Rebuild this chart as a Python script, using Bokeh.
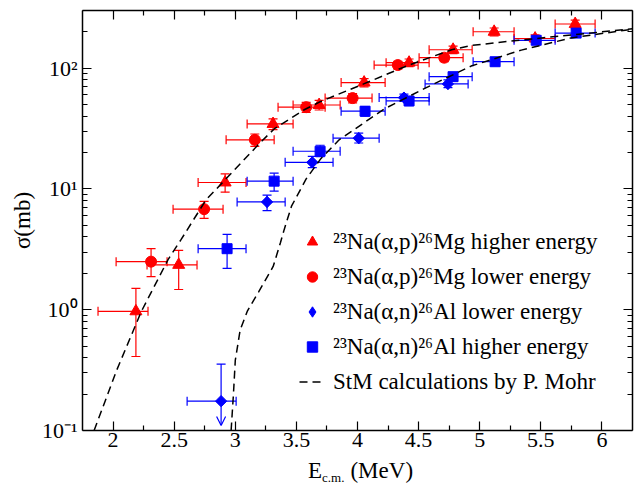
from bokeh.plotting import figure
from bokeh.layouts import column
from bokeh.models import (ColumnDataSource, Whisker, TeeHead, Arrow, OpenHead, Legend,
                          LegendItem, FixedTicker, CustomJSTickFormatter, LinearAxis,
                          LogAxis, Range1d, Div)
from bokeh.embed import file_html
from bokeh.resources import INLINE

# ---------------- data ----------------
# 23Na(a,p)26Mg higher energy (triangles)
tri_x = [2.187, 2.537, 2.917, 3.309, 3.686, 4.054, 4.422, 4.782, 5.118, 5.453, 5.781]
tri_xlo = [1.877, 2.278, 2.696, 3.097, 3.473, 3.866, 4.234, 4.586, 4.946, 5.281, 5.617]
tri_xhi = [2.286, 2.687, 3.088, 3.473, 3.858, 4.226, 4.586, 4.938, 5.281, 5.617, 5.944]
tri_y = [0.97, 2.35, 11.3, 34.5, 49.5, 76, 111, 142, 200, 176, 232]
tri_ylo = [0.41, 1.47, 9.4, 31, 45, 70, 103, 132, 185, 163, 214]
tri_yhi = [1.5, 3.1, 13.3, 38, 54, 82, 119, 152, 215, 189, 250]

# 23Na(a,p)26Mg lower energy (circles)
cir_x = [2.311, 2.745, 3.16, 3.58, 3.96, 4.33, 4.71]
cir_xlo = [2.025, 2.491, 2.925, 3.350, 3.735, 4.136, 4.504]
cir_xhi = [2.442, 2.900, 3.318, 3.735, 4.119, 4.496, 4.864]
cir_y = [2.5, 6.8, 25.5, 47.5, 56.5, 106, 122]
cir_ylo = [1.88, 5.7, 22.5, 43, 51.5, 98, 113]
cir_yhi = [3.2, 7.9, 28.5, 52, 61.5, 114, 131]

# 23Na(a,n)26Al lower energy (diamonds); separate upper-limit point
dia_x = [3.26, 3.63, 4.01, 4.38, 4.74]
dia_xlo = [3.015, 3.408, 3.800, 4.177, 4.553]
dia_xhi = [3.408, 3.800, 4.177, 4.586, 4.905]
dia_y = [7.8, 16.6, 26.3, 57, 74]
dia_ylo = [6.6, 15.0, 24.0, 53, 69]
dia_yhi = [8.9, 18.6, 29.0, 61, 80]
lim_x = [2.884]
lim_xlo = [2.606]
lim_xhi = [3.007]
lim_y = [0.175]
lim_yhi = [0.355]
lim_to = [0.11]

# 23Na(a,n)26Al higher energy (squares)
sq_x = [2.933, 3.318, 3.694, 4.062, 4.422, 4.782, 5.126, 5.462, 5.789]
sq_xlo = [2.696, 3.097, 3.473, 3.866, 4.234, 4.586, 4.946, 5.281, 5.617]
sq_xhi = [3.088, 3.473, 3.858, 4.226, 4.586, 4.938, 5.281, 5.617, 5.944]
sq_y = [3.2, 11.6, 20.5, 44, 53.5, 85, 113, 170, 195]
sq_ylo = [2.2, 9.6, 18.5, 40, 49, 78, 105, 158, 182]
sq_yhi = [4.2, 13.5, 23, 48, 58, 92, 121, 182, 208]

# StM calculations by P. Mohr
stm_p_x = [1.845, 2.03, 2.23, 2.45, 2.556, 2.76, 2.93, 3.21, 3.32, 3.56, 3.70, 4.05,
           4.41, 4.77, 4.93, 5.34, 5.75, 6.25]
stm_p_y = [0.1, 0.316, 0.96, 2.6, 3.8, 8.1, 12.3, 24.5, 31.5, 45, 53, 74,
           105, 142, 154, 171, 188, 212]
stm_n_x = [2.966, 2.985, 3.0, 3.04, 3.10, 3.19, 3.31, 3.37, 3.40, 3.46, 3.58, 3.70,
           3.85, 4.22, 4.55, 4.93, 5.34, 5.75, 6.25]
stm_n_y = [0.1, 0.2, 0.38, 0.68, 0.98, 1.4, 2.28, 3.6, 4.6, 7.2, 12.1, 17.8,
           25.5, 46, 68, 104, 141, 178, 210]

x_major = [2, 2.5, 3, 3.5, 4, 4.5, 5, 5.5, 6]
x_minor = [2.25, 2.75, 3.25, 3.75, 4.25, 4.75, 5.25, 5.75]
y_major = [0.1, 1, 10, 100]
y_minor = [0.2, 0.3, 0.4, 0.5, 0.6, 0.7, 0.8, 0.9, 2, 3, 4, 5, 6, 7, 8, 9,
           20, 30, 40, 50, 60, 70, 80, 90, 200, 300]

labels = ["²³Na(α,p)²⁶Mg higher energy", "²³Na(α,p)²⁶Mg lower energy",
          "²³Na(α,n)²⁶Al lower energy", "²³Na(α,n)²⁶Al higher energy",
          "StM calculations by P. Mohr"]
y_title = "σ(mb)"
x_title_main, x_title_sub, x_title_unit = "E", "c.m.", "(MeV)"

RED = "#ff0000"
BLUE = "#0000ff"
FONT = "Liberation Serif"

p = figure(width=641, height=458, x_range=Range1d(1.75, 6.25), y_range=Range1d(0.1, 300),
           y_axis_type="log", output_backend="svg", toolbar_location=None,
           min_border_left=82, min_border_right=9, min_border_top=10, min_border_bottom=28)
p.grid.visible = False
p.outline_line_color = None
p.background_fill_color = "white"
p.border_fill_color = "white"

xt = FixedTicker(ticks=x_major, minor_ticks=x_minor)
yt = FixedTicker(ticks=y_major, minor_ticks=y_minor)
blank = CustomJSTickFormatter(code="return ''")


def style(ax):
    ax.axis_line_color = "black"
    ax.axis_line_width = 1.5
    ax.major_tick_line_color = "black"
    ax.minor_tick_line_color = "black"
    ax.major_tick_line_width = 1.2
    ax.minor_tick_line_width = 1.2
    ax.major_tick_in = 9
    ax.major_tick_out = 0
    ax.minor_tick_in = 5
    ax.minor_tick_out = 0
    ax.major_label_text_font = FONT
    ax.major_label_text_font_size = "22px"
    ax.major_label_text_color = "black"


xa = p.xaxis[0]
xa.ticker = xt
xa.formatter = CustomJSTickFormatter(code="return tick.toString()")
style(xa)
xa.major_label_standoff = 2

ya = p.yaxis[0]
ya.ticker = yt
ya.formatter = CustomJSTickFormatter(code="""
const m = {"-1": "10\u207b\u00b9", "0": "10\u2070", "1": "10\u00b9", "2": "10\u00b2"};
return m[String(Math.round(Math.log10(tick)))];
""")
style(ya)
ya.major_label_standoff = 5
ya.axis_label = y_title
ya.axis_label_text_font = FONT
ya.axis_label_text_font_size = "23px"
ya.axis_label_text_font_style = "normal"
ya.axis_label_text_color = "black"
ya.axis_label_standoff = 4

top = LinearAxis(ticker=xt, formatter=blank)
style(top)
top.major_label_text_font_size = "0px"
top.major_label_standoff = 0
p.add_layout(top, "above")

right = LogAxis(ticker=yt, formatter=blank)
style(right)
right.major_label_text_font_size = "0px"
right.major_label_standoff = 0
p.add_layout(right, "right")


def tee(color):
    return TeeHead(size=9, line_color=color, line_width=1.2)


def errbars(src, color):
    p.add_layout(Whisker(source=src, base="y", lower="xlo", upper="xhi", dimension="width",
                         line_color=color, line_width=1.2,
                         upper_head=tee(color), lower_head=tee(color)))
    p.add_layout(Whisker(source=src, base="x", lower="ylo", upper="yhi", dimension="height",
                         line_color=color, line_width=1.2,
                         upper_head=tee(color), lower_head=tee(color)))


tri_src = ColumnDataSource(dict(x=tri_x, y=tri_y, xlo=tri_xlo, xhi=tri_xhi, ylo=tri_ylo, yhi=tri_yhi))
cir_src = ColumnDataSource(dict(x=cir_x, y=cir_y, xlo=cir_xlo, xhi=cir_xhi, ylo=cir_ylo, yhi=cir_yhi))
dia_src = ColumnDataSource(dict(x=dia_x, y=dia_y, xlo=dia_xlo, xhi=dia_xhi, ylo=dia_ylo, yhi=dia_yhi))
sq_src = ColumnDataSource(dict(x=sq_x, y=sq_y, xlo=sq_xlo, xhi=sq_xhi, ylo=sq_ylo, yhi=sq_yhi))
lim_src = ColumnDataSource(dict(x=lim_x, y=lim_y, xlo=lim_xlo, xhi=lim_xhi, yhi=lim_yhi, to=lim_to))

errbars(tri_src, RED)
errbars(cir_src, RED)
errbars(dia_src, BLUE)
errbars(sq_src, BLUE)
p.add_layout(Whisker(source=lim_src, base="y", lower="xlo", upper="xhi", dimension="width",
                     line_color=BLUE, line_width=1.2,
                     upper_head=tee(BLUE), lower_head=tee(BLUE)))
p.add_layout(Whisker(source=lim_src, base="x", lower="y", upper="yhi", dimension="height",
                     line_color=BLUE, line_width=1.2,
                     upper_head=tee(BLUE), lower_head=None))
p.add_layout(Arrow(source=lim_src, x_start="x", y_start="y", x_end="x", y_end="to",
                   line_color=BLUE, line_width=1.2,
                   end=OpenHead(size=9, line_color=BLUE, line_width=1.2)))

r_tri = p.scatter("x", "y", source=tri_src, marker="triangle", size=12,
                  fill_color=RED, line_color=RED)
r_cir = p.scatter("x", "y", source=cir_src, marker="circle", size=11,
                  fill_color=RED, line_color=RED)
# diamond glyph (used by the legend), covered by a rotated square of the same colour
r_dia = p.scatter("x", "y", source=dia_src, marker="diamond", size=11,
                  fill_color=BLUE, line_color=BLUE)
p.scatter("x", "y", source=dia_src, marker="square", angle=0.7854, size=8,
          fill_color=BLUE, line_color=BLUE)
p.scatter("x", "y", source=lim_src, marker="square", angle=0.7854, size=8,
          fill_color=BLUE, line_color=BLUE)
r_sq = p.scatter("x", "y", source=sq_src, marker="square", size=10,
                 fill_color=BLUE, line_color=BLUE)

r_stm = p.line(stm_p_x, stm_p_y, line_color="black", line_width=1.5, line_dash="8 5")
p.line(stm_n_x, stm_n_y, line_color="black", line_width=1.5, line_dash="8 5")

legend = Legend(items=[LegendItem(label=labels[0], renderers=[r_tri]),
                       LegendItem(label=labels[1], renderers=[r_cir]),
                       LegendItem(label=labels[2], renderers=[r_dia]),
                       LegendItem(label=labels[3], renderers=[r_sq]),
                       LegendItem(label=labels[4], renderers=[r_stm])],
                location=(217, 31))
legend.border_line_color = None
legend.background_fill_alpha = 0
legend.padding = 0
legend.margin = 0
legend.spacing = 0
legend.glyph_height = 35
legend.label_height = 35
legend.glyph_width = 26
legend.label_standoff = 8
legend.label_text_font = FONT
legend.label_text_font_size = "23px"
legend.label_text_color = "black"
p.add_layout(legend)

# x axis title with subscript (HTML text under the plot)
x_title = Div(
    text=(f"<div style=\"font-family:'Liberation Serif';font-size:23px;line-height:23px;"
          f"color:black;white-space:nowrap;padding-left:303px;position:relative;top:-4px;"
          f"height:29px;overflow:visible\">"
          f"{x_title_main}<span style=\"font-size:13px;line-height:1;position:relative;"
          f"top:4px;margin-right:6px\">{x_title_sub}</span>{x_title_unit}</div>"),
    width=641, height=25,
    styles={"overflow": "visible"},
    stylesheets=[":host { overflow: visible !important; } "
                 ".bk-clearfix { overflow: visible !important; }"])

layout = column(p, x_title, spacing=0)
open("out.html", "w").write(file_html(layout, INLINE))
